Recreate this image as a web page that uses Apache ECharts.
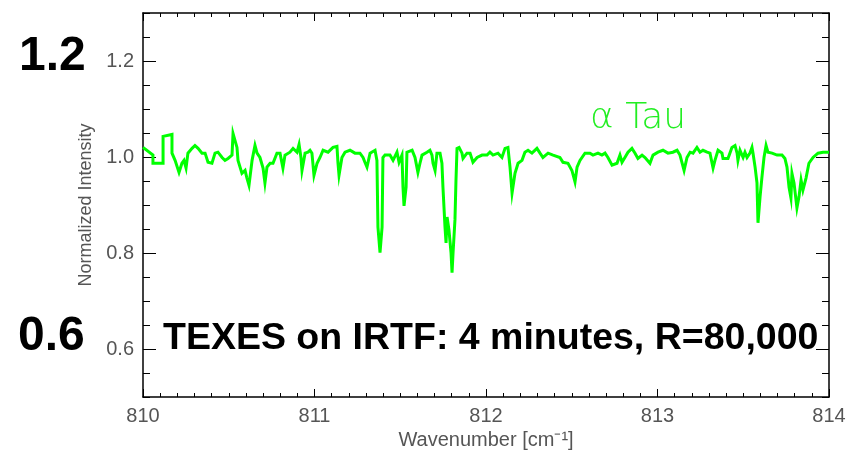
<!DOCTYPE html>
<html>
<head>
<meta charset="utf-8">
<script src="https://cdn.jsdelivr.net/npm/echarts@6/dist/echarts.min.js"></script>
<style>
html,body{margin:0;padding:0;background:#fff;}
#c{width:852px;height:457px;}
</style>
</head>
<body>
<div id="c"></div>
<script>
// Wavenumber (cm^-1) and normalized intensity
const wavenumber = [
810.000,810.058,810.058,810.117,810.117,810.169,810.169,810.187,810.210,810.227,810.239,810.251,810.262,810.286,810.303,810.321,810.344,810.362,810.379,810.402,
810.420,810.437,810.461,810.478,810.496,810.519,810.525,810.536,810.548,810.554,810.577,810.595,810.606,810.618,810.636,810.653,810.665,810.682,810.700,810.711,
810.723,810.741,810.758,810.781,810.799,810.816,810.828,810.857,810.875,810.898,810.910,810.921,810.927,810.945,810.962,810.974,810.985,810.997,811.015,811.032,
811.050,811.079,811.108,811.131,811.137,811.143,811.160,811.178,811.207,811.236,811.265,811.283,811.294,811.306,811.324,811.353,811.364,811.370,811.382,811.394,
811.399,811.411,811.440,811.458,811.481,811.493,811.510,811.516,811.522,811.534,811.539,811.569,811.586,811.603,811.615,811.627,811.656,811.673,811.685,811.691,
811.703,811.714,811.732,811.743,811.749,811.761,811.767,811.773,811.784,811.796,811.802,811.808,811.819,811.825,811.831,811.843,811.860,811.866,811.889,811.907,
811.924,811.948,811.977,812.006,812.023,812.041,812.070,812.093,812.111,812.128,812.140,812.152,812.169,812.187,812.210,812.227,812.245,812.268,812.297,812.315,
812.332,812.362,812.391,812.431,812.449,812.478,812.501,812.519,812.531,812.548,812.577,812.606,812.624,812.653,812.676,812.694,812.711,812.735,812.764,812.781,
812.793,812.810,812.828,812.851,812.869,812.886,812.910,812.927,812.956,812.974,813.003,813.032,813.061,813.090,813.114,813.131,813.155,813.172,813.190,813.207,
813.230,813.248,813.265,813.289,813.306,813.324,813.335,813.353,813.376,813.382,813.411,813.434,813.452,813.464,813.469,813.481,813.499,813.510,813.522,813.539,
813.551,813.557,813.569,813.580,813.586,813.598,813.609,813.621,813.633,813.644,813.668,813.697,813.726,813.743,813.755,813.767,813.778,813.784,813.796,813.813,
813.825,813.837,813.848,813.866,813.883,813.907,813.936,813.965,813.994,814.000
];
const intensity = [
1.020,1.004,0.987,0.987,1.043,1.047,1.008,0.993,0.968,0.987,0.993,0.977,1.008,1.018,1.024,1.018,1.008,1.008,0.989,0.987,
1.008,1.010,0.999,0.993,0.997,1.004,1.049,1.051,1.020,0.993,0.966,0.972,0.956,0.941,0.993,1.024,1.008,0.999,0.977,0.946,
0.979,0.987,0.987,1.008,1.008,0.977,1.004,1.010,1.018,1.010,1.026,0.999,0.972,1.008,1.010,1.014,1.008,0.962,0.987,0.999,
1.014,1.010,1.020,1.022,0.987,0.962,0.999,1.010,1.014,1.008,1.008,0.999,0.989,0.979,1.008,1.014,0.993,0.854,0.801,0.854,
0.999,1.004,1.004,0.993,1.010,0.989,1.004,0.937,0.898,0.937,1.010,1.014,0.999,0.968,0.987,1.004,1.010,1.014,1.004,0.987,
0.972,1.008,1.008,0.987,0.937,0.854,0.821,0.875,0.848,0.801,0.759,0.801,0.869,0.952,1.018,1.020,1.008,0.997,1.008,1.008,
0.989,0.999,1.004,1.004,1.010,1.004,1.008,0.999,1.018,1.020,0.979,0.925,0.966,0.987,0.993,1.010,1.014,1.008,1.018,1.008,
0.999,1.008,1.004,0.999,0.989,0.987,0.972,0.948,0.979,0.993,1.008,1.008,1.004,1.008,1.004,1.008,0.999,0.983,0.987,1.004,
0.989,0.999,1.010,1.018,1.008,0.997,1.004,0.999,0.987,1.004,1.010,1.014,1.008,1.010,1.014,1.004,0.972,0.999,1.010,1.008,
1.020,1.010,1.014,1.010,1.008,0.977,0.993,1.014,1.008,0.997,0.997,1.020,1.024,1.008,0.993,1.014,0.999,1.010,0.999,1.008,
1.020,1.008,0.979,0.946,0.863,0.917,0.958,0.999,1.024,1.010,1.008,1.004,1.004,0.997,0.979,0.937,0.915,0.966,0.946,0.894,
0.917,0.952,0.931,0.956,0.987,0.999,1.008,1.010,1.010,1.010
];
const xTicks = [810, 811, 812, 813, 814];
const yLabelValues = [0.6, 0.8, 1.0, 1.2];
const starName = 'α Tau';
const bigLabelTop = '1.2';
const bigLabelBottom = '0.6';
const titleText = 'TEXES on IRTF: 4 minutes, R=80,000';

const chart = echarts.init(document.getElementById('c'), null, {renderer: 'canvas'});
const pts = wavenumber.map((w, i) => [w, intensity[i]]);
const lbl = {color: '#555', fontFamily: 'Liberation Sans, Arial, sans-serif', fontSize: 20};
const axLine = {show: true, lineStyle: {color: '#000', width: 1.5}};

function xAx(pos, showLabel) {
  return {
    type: 'value', position: pos, min: 810, max: 814, interval: 1,
    axisLine: axLine,
    axisTick: {show: true, inside: true, length: 8, lineStyle: {color: '#000', width: 1}},
    minorTick: {show: true, splitNumber: 10, length: 4, lineStyle: {color: '#000', width: 1}},
    splitLine: {show: false}, minorSplitLine: {show: false},
    axisLabel: Object.assign({show: showLabel, margin: 9, formatter: v => String(Math.round(v))}, lbl),
    name: showLabel ? 'Wavenumber [cm⁻¹]' : '',
    nameLocation: 'middle', nameGap: 33,
    nameTextStyle: {color: '#555', fontFamily: 'Liberation Sans, Arial, sans-serif', fontSize: 20}
  };
}
function yMinor(pos, showLabel) {
  return {
    type: 'value', position: pos, min: 0.5, max: 1.3, interval: 0.05,
    axisLine: axLine,
    axisTick: {show: true, inside: true, length: 7, lineStyle: {color: '#000', width: 1}},
    splitLine: {show: false},
    axisLabel: Object.assign({show: showLabel, margin: 9, interval: 0,
      formatter: v => {
        const hit = yLabelValues.find(t => Math.abs(t - v) < 1e-6);
        return hit === undefined ? '' : hit.toFixed(1);
      }}, lbl),
    name: showLabel ? 'Normalized Intensity' : '',
    nameLocation: 'middle', nameGap: 48, nameRotate: 90,
    nameTextStyle: {color: '#555', fontFamily: 'Liberation Sans, Arial, sans-serif', fontSize: 18}
  };
}
function yMajor(pos) {
  return {
    type: 'value', position: pos, min: 0.5, max: 1.3,
    axisLine: {show: false},
    axisTick: {show: true, inside: true, length: 13, customValues: yLabelValues, lineStyle: {color: '#000', width: 1}},
    axisLabel: {show: false},
    splitLine: {show: false}
  };
}

chart.setOption({
  animation: false,
  backgroundColor: '#fff',
  grid: {left: 143, right: 23, top: 13, bottom: 60, containLabel: false},
  xAxis: [xAx('bottom', true), xAx('top', false)],
  yAxis: [yMinor('left', true), yMinor('right', false), yMajor('left'), yMajor('right')],
  series: [{
    type: 'line', data: pts, xAxisIndex: 0, yAxisIndex: 0,
    showSymbol: false, symbol: 'none', clip: true,
    lineStyle: {color: '#00ff00', width: 3, join: 'miter'}
  }],
  graphic: [
    {type: 'text', left: 19, top: 33, style: {text: bigLabelTop, fill: '#000', font: 'bold 48px "Liberation Sans", Arial, sans-serif'}},
    {type: 'text', left: 18, top: 313, style: {text: bigLabelBottom, fill: '#000', font: 'bold 48px "Liberation Sans", Arial, sans-serif'}},
    {type: 'text', left: 163, top: 320, style: {text: titleText, fill: '#000', font: 'bold 37.5px "Liberation Sans", Arial, sans-serif'}},
    {type: 'text', left: 590, top: 101, style: {text: starName, fill: '#22ee22', font: '200 36px "DejaVu Sans", "Liberation Sans", sans-serif'}}
  ]
});
</script>
</body>
</html>
